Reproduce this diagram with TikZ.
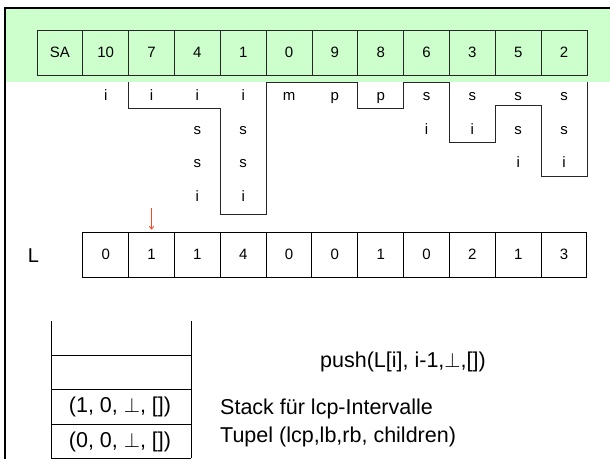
\documentclass[tikz,border=0pt]{standalone}
\usepackage{fontspec}
\setmainfont{Liberation Sans}
\usetikzlibrary{arrows.meta}
\definecolor{sagreen}{HTML}{CCFFCC}
\definecolor{arrred}{HTML}{FF4422}
\begin{document}
\begin{tikzpicture}[x=1pt,y=-1pt,
  sacell/.style={draw=black!85,line width=0.9pt,minimum width=45.83pt,minimum height=45pt,inner sep=0pt,font=\fontsize{15}{18}\selectfont},
  lcell/.style={draw=black,line width=1pt,minimum width=45.83pt,minimum height=45pt,inner sep=0pt,font=\fontsize{15}{18}\selectfont},
  letter/.style={inner sep=0pt,anchor=base,font=\fontsize{15}{18}\selectfont},
  bigtext/.style={inner sep=0pt,font=\fontsize{21.5}{25}\selectfont},
  stacktext/.style={inner sep=0pt,font=\fontsize{21.5}{25}\selectfont},
  stair/.style={draw=black!85,line width=0.9pt},
  frame/.style={draw=black,line width=2.5pt}
  ]
\useasboundingbox (0,0) rectangle (610,459);
\fill[sagreen] (6,9) rectangle (610,82);
\draw[frame] (5,459) -- (5,8) -- (610,8);
% SA table
\foreach \t [count=\k from 0] in {SA,10,7,4,1,0,9,8,6,3,5,2}{
  \node[sacell] (sa\k) at ({37+45.83*(\k+0.5)},52.5) {\t};
}
% suffix letters
\foreach \k/\col in {1/{i},2/{i},3/{i,s,s,i},4/{i,s,s,i},5/{m},6/{p},7/{p},8/{s,i},9/{s,i},10/{s,s,i},11/{s,s,i}}{
  \foreach \ch [count=\r from 0] in \col {
    \node[letter] (ch\k-\r) at ({37+45.83*(\k+0.5)},{100.5+33.7*\r}) {\ch};
  }
}
% lcp staircase
\draw[stair] (128.7,82) -- (128.7,108) -- (220.3,108) -- (220.3,214) -- (266.2,214) -- (266.2,82)
  -- (357.8,82) -- (357.8,108) -- (403.6,108) -- (403.6,82) -- (449.5,82) -- (449.5,142)
  -- (495.3,142) -- (495.3,105) -- (541.2,105) -- (541.2,176) -- (587,176) -- (587,82);
% L table
\node[inner sep=0pt,font=\fontsize{20}{24}\selectfont] (Llab) at (33.5,256) {L};
\foreach \t [count=\k from 1] in {0,1,1,4,0,0,1,0,2,1,3}{
  \node[lcell] (L\k) at ({37+45.83*(\k+0.5)},254.5) {\t};
}
\coordinate (arrtop) at (151.6,208);
\coordinate (arrtip) at (151.6,229.5);
\draw[arrred,line width=0.8pt,-{To[length=3.5pt,width=5pt]}] (arrtop) -- (arrtip);
% stack
\draw[line width=0.9pt] (51,321) -- (51,458) (191,321) -- (191,458);
\draw[line width=0.7pt] (51,355) -- (191,355) (51,389) -- (191,389) (51,424) -- (191,424);
\draw[line width=1pt] (51,458) -- (191,458);
\node[stacktext] (st1) at (120,407) {(1, 0, $\perp$, [])};
\node[stacktext] (st0) at (120,441.5) {(0, 0, $\perp$, [])};
\node[bigtext,anchor=west] (push) at (320,362) {push(L[i], i-1,$\perp$,[])};
\node[bigtext,anchor=west] (stk) at (220,409) {Stack für lcp-Intervalle};
\node[bigtext,anchor=west] (tup) at (220,437) {Tupel (lcp,lb,rb, children)};
\end{tikzpicture}
\end{document}
